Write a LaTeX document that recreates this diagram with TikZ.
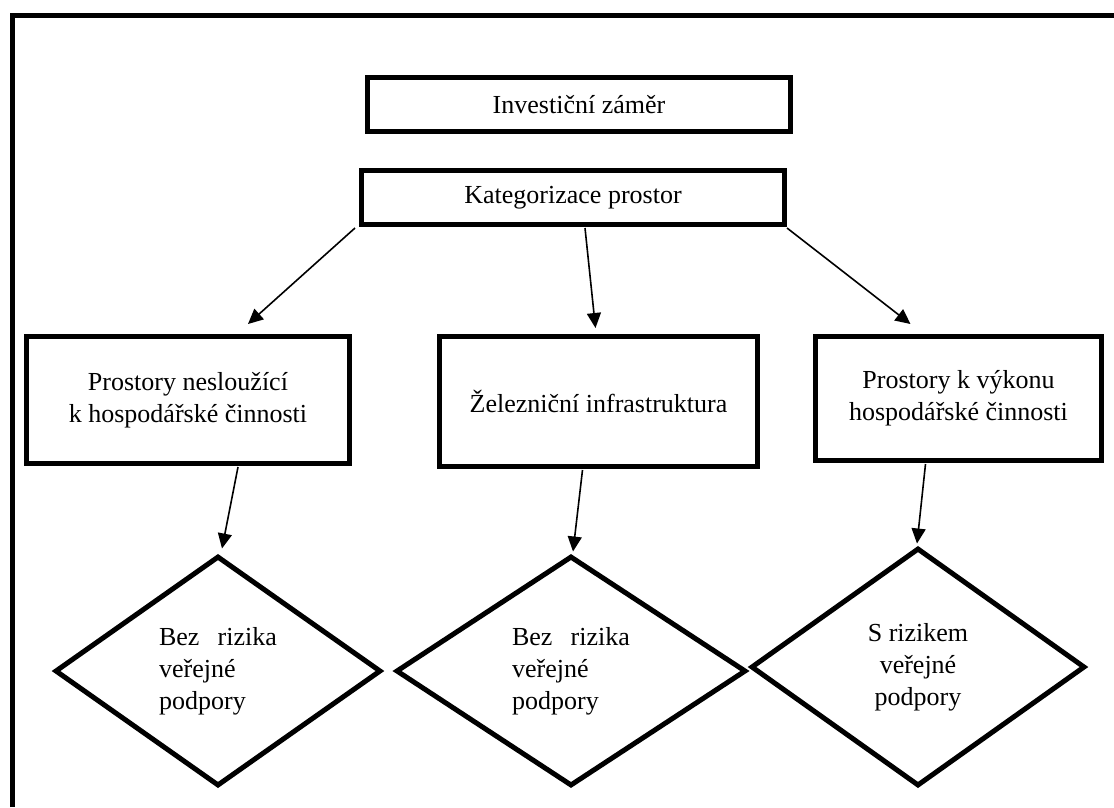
\documentclass[tikz,border=0pt]{standalone}
\usepackage{fontspec}
\setmainfont{Liberation Serif}
\usetikzlibrary{shapes.geometric,arrows.meta}

\tikzset{
  box/.style={draw,rectangle,line width=5pt,inner sep=0pt,align=center},
  diam/.style={draw,diamond,line width=5pt,inner sep=0pt},
  arr/.style={line width=1.6pt,-{Triangle[length=15pt,width=14pt]}}
}

\begin{document}
\begin{tikzpicture}[x=1pt,y=-1pt,font=\fontsize{26}{32}\selectfont]
  \useasboundingbox (0,0) rectangle (1114,807);
  % frame
  \draw[line width=5pt] (12.5,807) -- (12.5,15.5) -- (1114,15.5);

  \node (inv) at (579,104.5) [box,minimum width=423pt,minimum height=54pt] {Investiční záměr};
  \node (kat) at (573,197.5) [box,minimum width=423pt,minimum height=54pt] {Kategorizace prostor};

  \node (nesl) at (188,400) [box,minimum width=323pt,minimum height=127pt] {Prostory nesloužící\\k hospodářské činnosti};
  \node (zel) at (598.5,401.5) [box,minimum width=318pt,minimum height=130pt] {Železniční infrastruktura};
  \node (vyk) at (958.5,398.5) [box,minimum width=286pt,minimum height=124pt] {Prostory k výkonu\\hospodářské činnosti};

  \node (d1) at (218,671) [diam,minimum width=326pt,minimum height=230pt,align=left] {Bez\hspace{0.7em}rizika\\veřejné\\podpory};
  \node (d2) at (571,671) [diam,minimum width=350pt,minimum height=230pt,align=left] {Bez\hspace{0.7em}rizika\\veřejné\\podpory};
  \node (d3) at (918,667) [diam,minimum width=334pt,minimum height=238pt,align=center] {S rizikem\\veřejné\\podpory};

  \draw[arr] ([xshift=-4pt,yshift=-1pt]kat.south west) -- ([xshift=60pt,yshift=10pt]nesl.north);
  \draw[arr] ([xshift=12pt,yshift=-1pt]kat.south) -- ([xshift=-3pt,yshift=6pt]zel.north);
  \draw[arr] ([yshift=-1pt]kat.south east) -- ([xshift=-48pt,yshift=10pt]vyk.north);

  \draw[arr] ([xshift=50pt,yshift=-1pt]nesl.south) -- ([xshift=4pt,yshift=5pt]d1.north);
  \draw[arr] ([xshift=-16pt,yshift=-1pt]zel.south) -- ([xshift=2pt,yshift=2pt]d2.north);
  \draw[arr] ([xshift=-33pt,yshift=-1pt]vyk.south) -- ([xshift=-1pt,yshift=2pt]d3.north);
\end{tikzpicture}
\end{document}
